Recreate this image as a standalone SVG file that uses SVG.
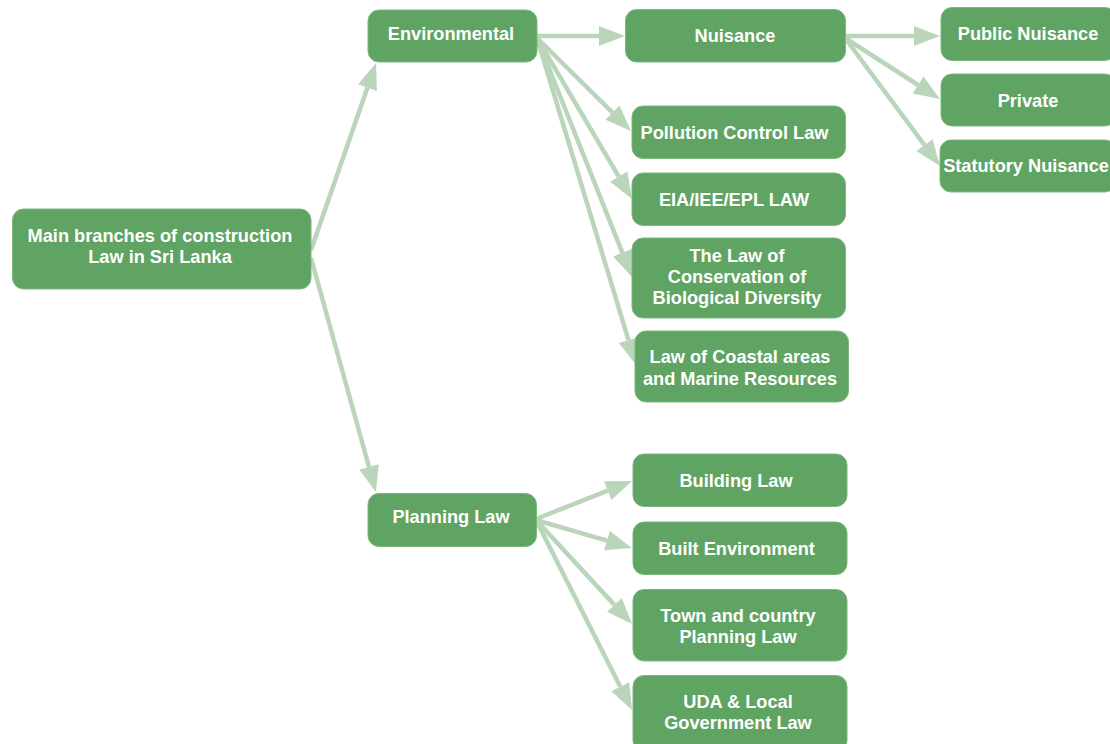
<svg xmlns="http://www.w3.org/2000/svg" width="1110" height="744" viewBox="0 0 1110 744">
<style>
.n rect{fill:#5fa463;stroke:#7db87f;stroke-width:1}
.n text{fill:#ffffff;font-family:"Liberation Sans",Arial,sans-serif;font-weight:bold;font-size:18.2px;text-anchor:middle}
.c line{stroke:#bad5ba;stroke-width:4.5;fill:none;marker-end:url(#ah)}
</style>
<defs>
<marker id="ah" markerUnits="userSpaceOnUse" markerWidth="26" markerHeight="20" refX="0" refY="10" orient="auto" overflow="visible">
<path d="M0,0 L26,10 L0,20 z" fill="#bad5ba"/>
</marker>
</defs>
<rect width="1110" height="744" fill="#ffffff"/>
<g id="connectors" class="c">
<line x1="311" y1="250" x2="367.5" y2="87.6"/>
<line x1="311" y1="258" x2="369" y2="467"/>
<line x1="537" y1="36" x2="599" y2="36"/>
<line x1="537" y1="38" x2="612.5" y2="112.7"/>
<line x1="537" y1="38" x2="618.8" y2="176.6"/>
<line x1="537" y1="38" x2="622.4" y2="252.8"/>
<line x1="537" y1="38" x2="628.5" y2="340.1"/>
<line x1="845" y1="36" x2="914" y2="36"/>
<line x1="845" y1="38" x2="918.1" y2="85"/>
<line x1="845" y1="38" x2="924.5" y2="145.1"/>
<line x1="536" y1="519" x2="607.8" y2="490.6"/>
<line x1="536" y1="520" x2="607" y2="540.7"/>
<line x1="536" y1="520" x2="614.4" y2="604.9"/>
<line x1="536" y1="520" x2="620.3" y2="686.8"/>
</g>
<g id="main" class="n"><rect x="12.5" y="209" width="298.5" height="80" rx="11"/><text x="160" y="241.5">Main branches of construction</text><text x="160" y="263">Law in Sri Lanka</text></g>
<g id="environmental" class="n"><rect x="368" y="10" width="169" height="52" rx="11"/><text x="451" y="39.5">Environmental</text></g>
<g id="nuisance" class="n"><rect x="625.5" y="9.5" width="220" height="52.5" rx="11"/><text x="735" y="42">Nuisance</text></g>
<g id="public-nuisance" class="n"><rect x="941" y="7.5" width="175" height="53" rx="11"/><text x="1028" y="40">Public Nuisance</text></g>
<g id="private" class="n"><rect x="941" y="74" width="175" height="52" rx="11"/><text x="1028" y="107">Private</text></g>
<g id="statutory-nuisance" class="n"><rect x="940" y="140" width="176" height="52" rx="11"/><text x="1026" y="172">Statutory Nuisance</text></g>
<g id="pollution" class="n"><rect x="632" y="106" width="213.5" height="52.5" rx="11"/><text x="734.5" y="139">Pollution Control Law</text></g>
<g id="eia" class="n"><rect x="632" y="173" width="213.5" height="52.5" rx="11"/><text x="734" y="206">EIA/IEE/EPL LAW</text></g>
<g id="conservation" class="n"><rect x="632" y="238" width="213.5" height="80" rx="11"/><text x="737" y="261.5">The Law of</text><text x="737" y="283">Conservation of</text><text x="737" y="304">Biological Diversity</text></g>
<g id="coastal" class="n"><rect x="635" y="331" width="213.5" height="71" rx="11"/><text x="740" y="363">Law of Coastal areas</text><text x="740" y="385">and Marine Resources</text></g>
<g id="planning" class="n"><rect x="368" y="493.5" width="168.5" height="53" rx="11"/><text x="451" y="523">Planning Law</text></g>
<g id="building" class="n"><rect x="633" y="454" width="214" height="52.5" rx="11"/><text x="736" y="487">Building Law</text></g>
<g id="built-environment" class="n"><rect x="633" y="522" width="214" height="52.5" rx="11"/><text x="736.5" y="555">Built Environment</text></g>
<g id="town-country" class="n"><rect x="633" y="589.5" width="214" height="71.5" rx="11"/><text x="738" y="621.5">Town and country</text><text x="738" y="643">Planning Law</text></g>
<g id="uda" class="n"><rect x="633" y="675.5" width="214" height="76" rx="11"/><text x="738" y="707.5">UDA &amp; Local</text><text x="738" y="729">Government Law</text></g>
</svg>
